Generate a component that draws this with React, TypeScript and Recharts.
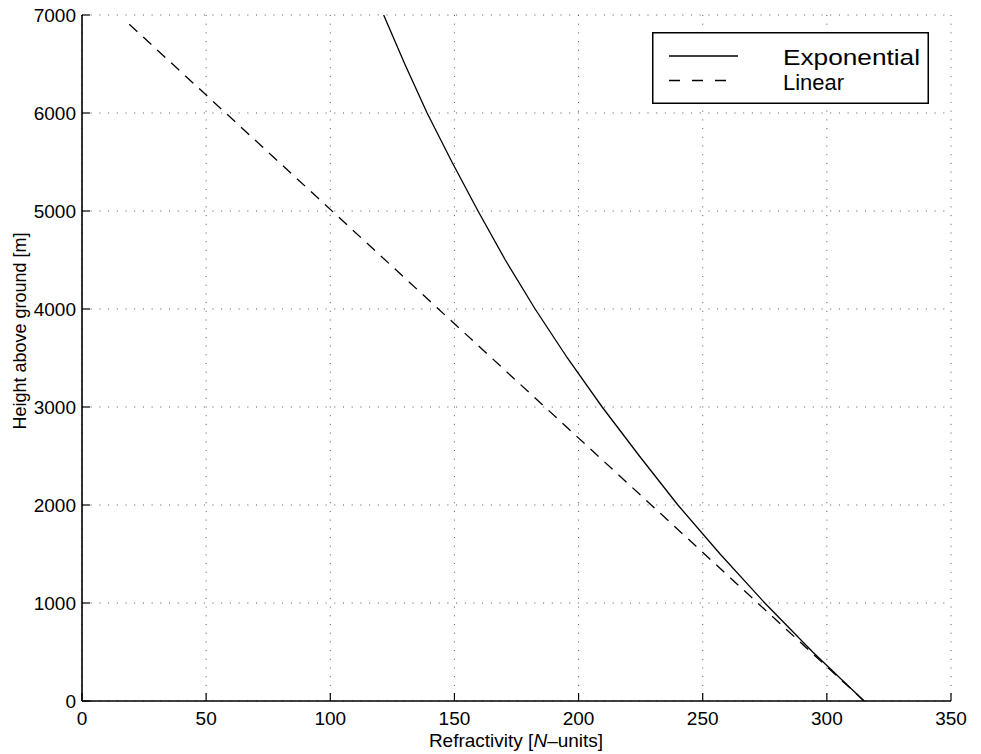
import { CartesianGrid, Legend, Line, LineChart, XAxis, YAxis } from "recharts";

// Refractivity N (N-units) against height above ground (m)
const expHeight = [0, 500, 1000, 1500, 2000, 2500, 3000, 3500, 4000, 4500, 5000, 5500, 6000, 6500, 7000];
const expN = [315, 294.3, 275, 257, 240, 224.5, 209.5, 195.5, 182.5, 170.5, 159.5, 149, 139, 130, 121.5];

const linHeight = [0, 6930];
const linN = [315, 18];

const xTicks = [0, 50, 100, 150, 200, 250, 300, 350];
const yTicks = [0, 1000, 2000, 3000, 4000, 5000, 6000, 7000];

const seriesNames = ["Exponential", "Linear"];

const FONT = "'Liberation Sans', Arial, Helvetica, sans-serif";

const expData = expHeight.map((h, i) => ({ n: expN[i], h }));
const linData = linHeight.map((h, i) => ({ n: linN[i], h }));

function BottomTick(props: any) {
  const { x, y, payload } = props;
  return (
    <g>
      <line x1={x} y1={y} x2={x} y2={y - 8} stroke="#000" strokeWidth={1.2} />
      <text x={x} y={y + 24} textAnchor="middle" fontSize={19} fontFamily={FONT} fill="#000">
        {payload.value}
      </text>
    </g>
  );
}

function LeftTick(props: any) {
  const { x, y, payload } = props;
  return (
    <g>
      <line x1={x} y1={y} x2={x + 8} y2={y} stroke="#000" strokeWidth={1.2} />
      <text x={x - 6} y={y + 6.8} textAnchor="end" fontSize={19} fontFamily={FONT} fill="#000">
        {payload.value}
      </text>
    </g>
  );
}

function TopTick(props: any) {
  const { x, y } = props;
  return <line x1={x} y1={y} x2={x} y2={y + 8} stroke="#000" strokeWidth={1.2} />;
}

function RightTick(props: any) {
  const { x, y } = props;
  return <line x1={x} y1={y} x2={x - 8} y2={y} stroke="#000" strokeWidth={1.2} />;
}

function LegendBox() {
  return (
    <svg width={277} height={72} style={{ display: "block" }}>
      <rect x={0.75} y={0.75} width={275.5} height={70.5} fill="#fff" stroke="#000" strokeWidth={1.5} />
      <line x1={17} y1={24} x2={86} y2={24} stroke="#000" strokeWidth={1.3} />
      <line x1={17} y1={48.5} x2={76} y2={48.5} stroke="#000" strokeWidth={1.3} strokeDasharray="11 12" />
      <text
        x={131}
        y={33}
        fontSize={22}
        fontFamily={FONT}
        fill="#000"
        textLength={137}
        lengthAdjust="spacingAndGlyphs"
      >
        {seriesNames[0]}
      </text>
      <text
        x={131}
        y={58}
        fontSize={22}
        fontFamily={FONT}
        fill="#000"
        textLength={61}
        lengthAdjust="spacingAndGlyphs"
      >
        {seriesNames[1]}
      </text>
    </svg>
  );
}

export default function App() {
  return (
    <div style={{ position: "absolute", left: 0, top: 0, width: 981, height: 754, background: "#fff" }}>
      <LineChart width={981} height={754} margin={{ top: 15, right: 30, bottom: 0, left: 0 }}>
        <CartesianGrid stroke="#555" strokeDasharray="1 7.7" strokeWidth={1} />
        <XAxis
          dataKey="n"
          type="number"
          domain={[0, 350]}
          ticks={xTicks}
          allowDataOverflow
          height={53}
          tickSize={0}
          tickMargin={0}
          tick={<BottomTick />}
          axisLine={{ stroke: "#000", strokeWidth: 1.6 }}
          tickLine={false}
        />
        <XAxis
          xAxisId="top"
          orientation="top"
          type="number"
          domain={[0, 350]}
          ticks={xTicks}
          allowDataOverflow
          height={0}
          tickSize={0}
          tickMargin={0}
          tick={<TopTick />}
          axisLine={{ stroke: "#000", strokeWidth: 1.6 }}
          tickLine={false}
        />
        <YAxis
          dataKey="h"
          type="number"
          domain={[0, 7000]}
          ticks={yTicks}
          allowDataOverflow
          width={82}
          tickSize={0}
          tickMargin={0}
          tick={<LeftTick />}
          axisLine={{ stroke: "#000", strokeWidth: 1.6 }}
          tickLine={false}
        />
        <YAxis
          yAxisId="right"
          orientation="right"
          type="number"
          domain={[0, 7000]}
          ticks={yTicks}
          allowDataOverflow
          width={0}
          tickSize={0}
          tickMargin={0}
          tick={<RightTick />}
          axisLine={{ stroke: "#000", strokeWidth: 1.6 }}
          tickLine={false}
        />
        <Legend
          layout="horizontal"
          verticalAlign="middle"
          align="center"
          content={<LegendBox />}
          wrapperStyle={{ left: 652, top: 32, width: 277, height: 72 }}
        />
        <Line
          data={expData}
          dataKey="h"
          name={seriesNames[0]}
          type="linear"
          stroke="#000"
          strokeWidth={1.3}
          dot={false}
          activeDot={false}
          isAnimationActive={false}
        />
        <Line
          data={linData}
          dataKey="h"
          name={seriesNames[1]}
          type="linear"
          stroke="#000"
          strokeWidth={1.3}
          strokeDasharray="11 8"
          dot={false}
          activeDot={false}
          isAnimationActive={false}
        />
        <text x={516} y={747} textAnchor="middle" fontSize={19} fontFamily={FONT} fill="#000">
          Refractivity [<tspan fontStyle="italic">N</tspan>–units]
        </text>
        <text
          x={26}
          y={331}
          transform="rotate(-90 26 331)"
          textAnchor="middle"
          fontSize={18}
          fontFamily={FONT}
          fill="#000"
        >
          Height above ground [m]
        </text>
      </LineChart>
    </div>
  );
}
